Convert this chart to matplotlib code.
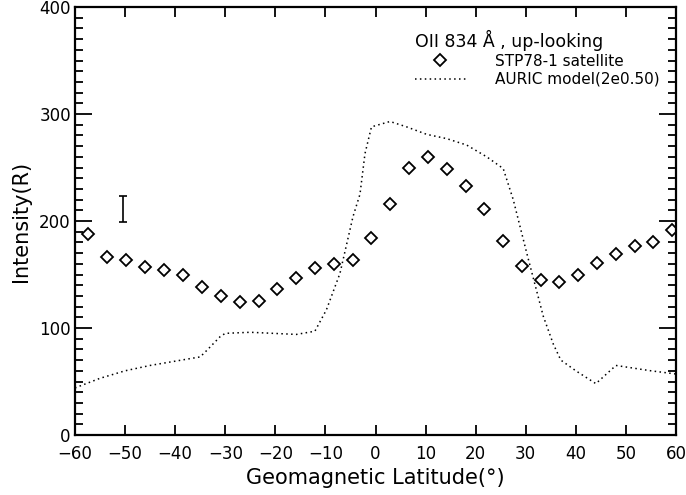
import matplotlib
matplotlib.use("Agg")
import matplotlib.pyplot as plt
from matplotlib.ticker import MultipleLocator

# STP78-1 satellite observations
sat_lat = [-57.5, -53.7, -49.9, -46.0, -42.2, -38.5, -34.7, -30.9, -27.1, -23.3,
           -19.6, -15.8, -12.1, -8.3, -4.5, -0.8, 2.9, 6.7, 10.4, 14.2, 18.0,
           21.6, 25.4, 29.2, 33.0, 36.7, 40.5, 44.3, 48.0, 51.8, 55.5, 59.2]
sat_int = [187.6, 166.6, 163.6, 156.7, 154.2, 149.5, 138.6, 130.2, 124.6, 125.2,
           136.1, 147.0, 155.8, 159.8, 163.6, 184.4, 215.9, 249.8, 259.8, 248.6,
           233.0, 210.9, 181.6, 158.2, 144.6, 143.0, 149.8, 161.0, 168.9, 176.6,
           180.1, 191.6]

# AURIC model curve
mod_lat = [-60, -55, -50, -45, -40, -35, -33.7, -31, -30, -25, -15.8, -12.1, -9.8,
           -7.1, -4.5, -3.1, -2.1, -0.8, 2.9, 6.2, 10.2, 14.2, 18.2, 22.2, 25.5,
           27.5, 30.2, 33.5, 35.5, 37.0, 40.0, 44.0, 48.0, 55.0, 60.0]
mod_int = [44, 53, 60, 65, 69, 73, 79, 92, 95, 96, 94, 97, 117, 151, 204, 225, 263,
           288, 293, 288, 281, 277, 271, 260, 249, 220, 170, 111, 85, 70, 60, 48,
           65, 60, 57]

# error bar
err_x = [-50.4]
err_lo = [199.3]
err_hi = [223.6]

xticks = list(range(-60, 61, 10))
yticks = [0, 100, 200, 300, 400]

plt.rcParams['font.family'] = ['DejaVu Sans']
fig = plt.figure(figsize=(6.86, 4.95), dpi=100)
ax = fig.add_axes([75/686, 60/495, 601/686, 428/495])

ax.plot(mod_lat, mod_int, linestyle=(0, (1, 2.2)), color='black', lw=1.1,
        label='AURIC model(2e0.50)')
ax.plot(sat_lat, sat_int, linestyle='none', marker='D', markersize=6,
        markerfacecolor='white', markeredgecolor='black', markeredgewidth=1.3,
        label='STP78-1 satellite')
mid = (err_lo[0] + err_hi[0]) / 2
ax.errorbar(err_x, [mid], yerr=[[mid - err_lo[0]], [err_hi[0] - mid]],
            fmt='none', ecolor='black', elinewidth=1.2, capsize=3, capthick=1.2)

ax.set_xlim(-60, 60)
ax.set_ylim(0, 400)
ax.set_xticks(xticks)
ax.set_yticks(yticks)
ax.yaxis.set_minor_locator(MultipleLocator(10))
ax.tick_params(axis='both', which='both', direction='in', top=True, right=True,
               labelsize=12)
ax.tick_params(axis='x', which='major', length=7, width=1.3, pad=7)
ax.tick_params(axis='y', which='major', length=12, width=1.3, pad=3)
ax.tick_params(axis='y', which='minor', length=6, width=1.3)
for s in ax.spines.values():
    s.set_linewidth(1.6)

ax.set_xlabel('Geomagnetic Latitude(°)', fontsize=15, labelpad=4)
ax.set_ylabel('Intensity(R)', fontsize=15, labelpad=6)

handles, labels = ax.get_legend_handles_labels()
leg = ax.legend(handles[::-1], labels[::-1], title='OII 834 Å , up-looking',
                loc='upper right', bbox_to_anchor=(0.99, 0.972), frameon=False,
                fontsize=11, title_fontsize=12.5, handlelength=3.3,
                handletextpad=1.9, labelspacing=0.2, borderpad=0.2)
leg._legend_box.align = 'left'

fig.savefig('out.png', dpi=100)
